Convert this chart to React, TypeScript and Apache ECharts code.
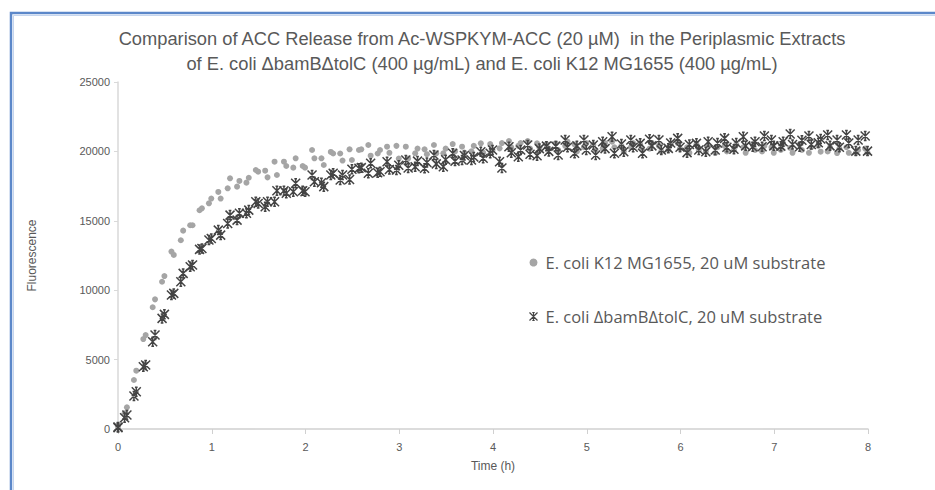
import React, { useEffect, useRef } from "react";
import * as echarts from "echarts";

const TITLE_LINES = [
  "Comparison of ACC Release from Ac-WSPKYM-ACC (20 \u00b5M)  in the Periplasmic Extracts",
  "of E. coli \u0394bamB\u0394tolC (400 \u00b5g/mL) and E. coli K12 MG1655 (400 \u00b5g/mL)",
];
const SERIES_K12 = "E. coli K12 MG1655, 20 uM substrate";
const SERIES_BAM = "E. coli \u0394bamB\u0394tolC, 20 uM substrate";
const X_NAME = "Time (h)";
const Y_NAME = "Fluorescence";

// replicate A reading times (h)
const timeA = [
  0, 0.07, 0.17, 0.27, 0.37, 0.47, 0.57, 0.67, 0.77, 0.87, 0.97,
  1.07, 1.17, 1.27, 1.37, 1.47, 1.57, 1.67, 1.77, 1.87, 1.97,
  2.07, 2.17, 2.27, 2.37, 2.47, 2.57, 2.67, 2.77, 2.87, 2.97,
  3.07, 3.17, 3.27, 3.37, 3.47, 3.57, 3.67, 3.77, 3.87, 3.97,
  4.07, 4.17, 4.27, 4.37, 4.47, 4.57, 4.67, 4.77, 4.87, 4.97,
  5.07, 5.17, 5.27, 5.37, 5.47, 5.57, 5.67, 5.77, 5.87, 5.97,
  6.07, 6.17, 6.27, 6.37, 6.47, 6.57, 6.67, 6.77, 6.87, 6.97,
  7.07, 7.17, 7.27, 7.37, 7.47, 7.57, 7.67, 7.77, 7.87, 7.97,
];
// replicate B reading times (h)
const timeB = [
  0, 0.095, 0.195, 0.295, 0.395, 0.495, 0.595, 0.695, 0.795, 0.895, 0.995,
  1.095, 1.195, 1.295, 1.395, 1.495, 1.595, 1.695, 1.795, 1.895, 1.995,
  2.095, 2.195, 2.295, 2.395, 2.495, 2.595, 2.695, 2.795, 2.895, 2.995,
  3.095, 3.195, 3.295, 3.395, 3.495, 3.595, 3.695, 3.795, 3.895, 3.995,
  4.095, 4.195, 4.295, 4.395, 4.495, 4.595, 4.695, 4.795, 4.895, 4.995,
  5.095, 5.195, 5.295, 5.395, 5.495, 5.595, 5.695, 5.795, 5.895, 5.995,
  6.095, 6.195, 6.295, 6.395, 6.495, 6.595, 6.695, 6.795, 6.895, 6.995,
  7.095, 7.195, 7.295, 7.395, 7.495, 7.595, 7.695, 7.795, 7.895, 7.995,
];

const k12A = [
  250, 1130, 3530, 6480, 8770, 10610, 12780, 13600, 14680, 15760, 16260,
  17080, 17340, 17460, 17750, 18660, 18610, 19260, 19260, 18830, 18950,
  20100, 19500, 19960, 19850, 20150, 20100, 20460, 19850, 20340, 20400,
  20340, 19860, 20150, 20460, 19860, 20530, 20340, 20000, 20580, 20530,
  20220, 20750, 20400, 20750, 20580, 20530, 20600, 20400, 20500, 20300,
  20500, 20200, 20700, 20400, 20300, 20500, 20200, 20400, 20100, 20600,
  20300, 20500, 20000, 19880, 20400, 20100, 20300, 20500, 20000, 20300,
  20100, 20250, 20500, 19900, 20400, 20000, 19880, 20300, 19880, 20200,
];
const k12B = [
  200, 1560, 4200, 6770, 9340, 11020, 12540, 14290, 14680, 15900, 16600,
  16600, 18060, 17870, 18100, 18540, 18130, 18300, 18950, 19500, 18830,
  19500, 19020, 19850, 19340, 19380, 20150, 19690, 20100, 19900, 19480,
  19480, 20200, 19800, 19860, 20200, 20000, 19910, 20400, 19910, 20100,
  20600, 20300, 20600, 20200, 20300, 20200, 20100, 20700, 20000, 20600,
  20100, 20600, 20300, 20000, 20600, 20100, 20600, 20000, 20500, 20200,
  19900, 20100, 20400, 20300, 20000, 20500, 19900, 20100, 20400, 19900,
  20500, 19900, 20100, 20300, 19980, 20300, 20200, 19900, 20100, 19900,
];
const bamA = [
  100, 815, 2380, 4490, 6290, 7970, 9650, 10610, 11690, 12940, 13610,
  14330, 14810, 15050, 15540, 16370, 16010, 16370, 17170, 17090, 17170,
  18300, 17740, 18300, 17940, 17980, 18780, 18420, 18460, 19260, 18660,
  19380, 18900, 18780, 19740, 18900, 19860, 19380, 19380, 19980, 19860,
  19260, 20340, 19620, 20460, 19680, 20380, 20380, 20820, 19860, 20820,
  20460, 20700, 21060, 20530, 20820, 20580, 20870, 20820, 20220, 20940,
  19910, 20580, 19980, 20100, 20940, 20150, 21060, 20340, 20340, 20820,
  20380, 21250, 20340, 21110, 20630, 21180, 20820, 21180, 20020, 21110,
];
const bamB = [
  150, 1010, 2690, 4610, 6770, 8260, 9770, 11210, 11810, 13010, 13730,
  13970, 15410, 15540, 15770, 16250, 16370, 17170, 16980, 17700, 17090,
  17810, 17460, 18420, 18300, 18710, 18830, 19140, 18540, 18700, 19000,
  18800, 19300, 19200, 19100, 19400, 19300, 19700, 19600, 19500, 20100,
  18800, 19900, 20100, 19800, 20200, 20000, 19740, 20300, 20400, 20100,
  19740, 20200, 19860, 19980, 20300, 19860, 20400, 20100, 20600, 20300,
  20500, 20100, 20700, 20600, 20300, 20600, 20400, 20700, 21110, 20400,
  20700, 20500, 20800, 20500, 20900, 20400, 20300, 20600, 20820, 20020,
];

const Y_TICKS_MAX = 25000;
const Y_STEP = 5000;
const X_MAX = 8;

const STAR = "path://M0,0L10,10M10,0L0,10M5,0L5,10M3.5,0L6.5,0M3.5,10L6.5,10";

function pairs(t: number[], v: number[]) {
  return t.map((x, i) => [x, v[i]]);
}

export default function App() {
  const ref = useRef<HTMLDivElement>(null);
  useEffect(() => {
    if (!ref.current) return;
    const chart = echarts.init(ref.current, null, { renderer: "svg" });
    const font = "'Liberation Sans', 'Open Sans', sans-serif";
    const legendFont = "'Open Sans', 'Liberation Sans', sans-serif";
    const grey = "#a5a5a5";
    const dark = "#444444";
    chart.setOption({
      animation: false,
      textStyle: { fontFamily: font },
      graphic: [
        {
          type: "rect",
          shape: { x: 11, y: 13, width: 960, height: 520 },
          style: { fill: "none", stroke: "#5b87c9", lineWidth: 2.5 },
          silent: true,
        },
        {
          type: "rect",
          shape: { x: 13.5, y: 15.5, width: 960, height: 520 },
          style: { fill: "none", stroke: "#c5d5ee", lineWidth: 1 },
          silent: true,
        },
        {
          type: "text",
          x: 482,
          y: 38,
          style: {
            text: TITLE_LINES[0],
            fill: "#595959",
            font: "18.3px " + font,
            textAlign: "center",
            textVerticalAlign: "middle",
          },
        },
        {
          type: "text",
          x: 482,
          y: 63,
          style: {
            text: TITLE_LINES[1],
            fill: "#595959",
            font: "18.3px " + font,
            textAlign: "center",
            textVerticalAlign: "middle",
          },
        },
      ],
      grid: { left: 118, right: 67, top: 82, bottom: 61 },
      legend: {
        orient: "vertical",
        left: 522,
        top: 249,
        itemGap: 37,
        itemWidth: 8,
        itemHeight: 8,
        textStyle: { color: "#595959", fontSize: 16.5, fontFamily: legendFont, padding: [0, 0, 0, 3] },
        data: [
          { name: SERIES_K12, icon: "circle", itemStyle: { color: grey } },
          {
            name: SERIES_BAM,
            icon: STAR,
            itemStyle: { color: "none", borderColor: dark, borderWidth: 1.2 },
          },
        ],
      },
      xAxis: {
        type: "value",
        min: 0,
        max: X_MAX,
        interval: 1,
        name: X_NAME,
        nameLocation: "middle",
        nameGap: 31,
        nameTextStyle: { color: "#595959", fontSize: 12 },
        axisLine: { show: true, lineStyle: { color: "#d0d0d0", width: 1.5 } },
        axisTick: { show: true, length: 5, lineStyle: { color: "#d0d0d0" } },
        axisLabel: { color: "#595959", fontSize: 11, margin: 12 },
        splitLine: { show: false },
      },
      yAxis: {
        type: "value",
        min: 0,
        max: Y_TICKS_MAX,
        interval: Y_STEP,
        name: Y_NAME,
        nameLocation: "middle",
        nameGap: 80,
        nameTextStyle: { color: "#595959", fontSize: 12 },
        axisLine: { show: true, lineStyle: { color: "#d9d9d9", width: 1.5 } },
        axisTick: { show: true, length: 4, lineStyle: { color: "#d9d9d9" } },
        axisLabel: { color: "#595959", fontSize: 11, margin: 8, formatter: (v: number) => String(v) },
        splitLine: { show: false },
      },
      series: [
        {
          name: SERIES_K12,
          type: "scatter",
          symbol: "circle",
          symbolSize: 6,
          itemStyle: { color: grey, opacity: 1 },
          data: [...pairs(timeA, k12A), ...pairs(timeB, k12B)],
          z: 2,
        },
        {
          name: SERIES_BAM,
          type: "scatter",
          symbol: STAR,
          symbolSize: 9,
          itemStyle: { color: "none", borderColor: dark, borderWidth: 1.5, opacity: 1 },
          data: [...pairs(timeA, bamA), ...pairs(timeB, bamB)],
          z: 3,
        },
      ],
    });
    return () => chart.dispose();
  }, []);
  return (
    <div
      ref={ref}
      style={{ position: "fixed", left: 0, top: 0, width: 935, height: 490, background: "#fff" }}
    />
  );
}
